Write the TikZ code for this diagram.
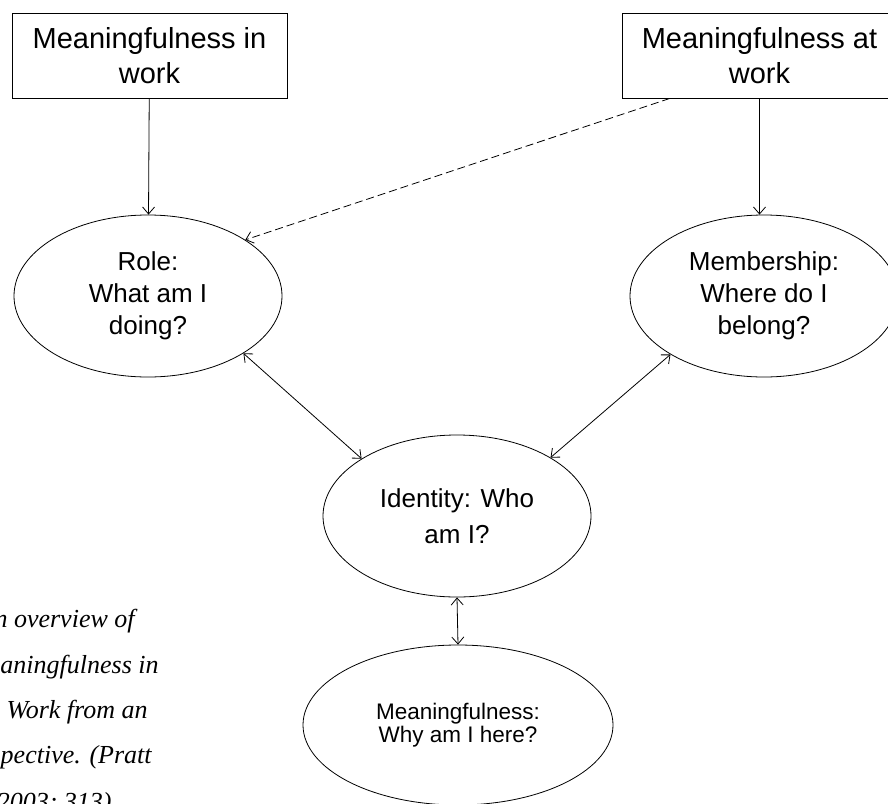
\documentclass[tikz,border=0pt]{standalone}
\usepackage{fontspec}
\setmainfont{Liberation Sans}
\newfontfamily\capfont{Liberation Serif}
\usetikzlibrary{shapes,arrows.meta,positioning,calc}
\tikzset{>={Straight Barb[length=7pt,width=12pt]}}

\begin{document}
\begin{tikzpicture}[x=1pt,y=-1pt,line width=0.8pt,
    mbox/.style={draw,rectangle,minimum width=275pt,minimum height=85pt,inner sep=0pt,
      align=center,font=\fontsize{29}{35}\selectfont},
    qell/.style={draw,ellipse,minimum width=268pt,minimum height=162pt,inner sep=0pt,
      align=center,font=\fontsize{26}{32}\selectfont},
    captxt/.style={anchor=base east,inner sep=0pt,font=\capfont\itshape\fontsize{26}{30}\selectfont}]
    \useasboundingbox (0,0) rectangle (888,803);
    \clip (0,0) rectangle (888,803);
    % the two sources
    \node [mbox] (inwork) at (149.5,55.5) {Meaningfulness in\\work};
    \node [mbox] (atwork) at (759.5,55.5) {Meaningfulness at\\work};
    % the questions
    \node [qell] (role) at (148,296) {Role:\\What am I\\doing?};
    \node [qell] (member) at (764,296) {Membership:\\Where do I\\belong?};
    \node [qell,font=\fontsize{26}{36}\selectfont] (ident) at (457,516) {Identity: Who\\am I?};
    \node [qell,minimum width=310pt,minimum height=160pt,font=\fontsize{22.5}{23}\selectfont]
      (meaning) at (458,725) {Meaningfulness:\\Why am I here?};
    % caption, cut at the left
    \node [captxt] (cap1) at (135,627) {n overview of};
    \node [captxt] (cap2) at (159,673) {aningfulness in};
    \node [captxt] (cap3) at (148,718) {Work from an};
    \node [captxt] (cap4) at (152,763) {pective. (Pratt};
    \node [captxt] (cap5) at (112,810) {2003; 313)};
    % links
    \draw [->] (inwork) -- (role);
    \draw [->] (atwork.south) -- (atwork.south |- member.north);
    \draw [->,dash pattern=on 8pt off 4pt]
      ($(atwork.south west)!0.175!(atwork.south east)$) -- (role.30);
    \draw [<->] (role.-31) -- (ident.149);
    \draw [<->] (member.212) -- (ident.32);
    \draw [<->] (ident.south) -- (meaning.north);
\end{tikzpicture}
\end{document}
